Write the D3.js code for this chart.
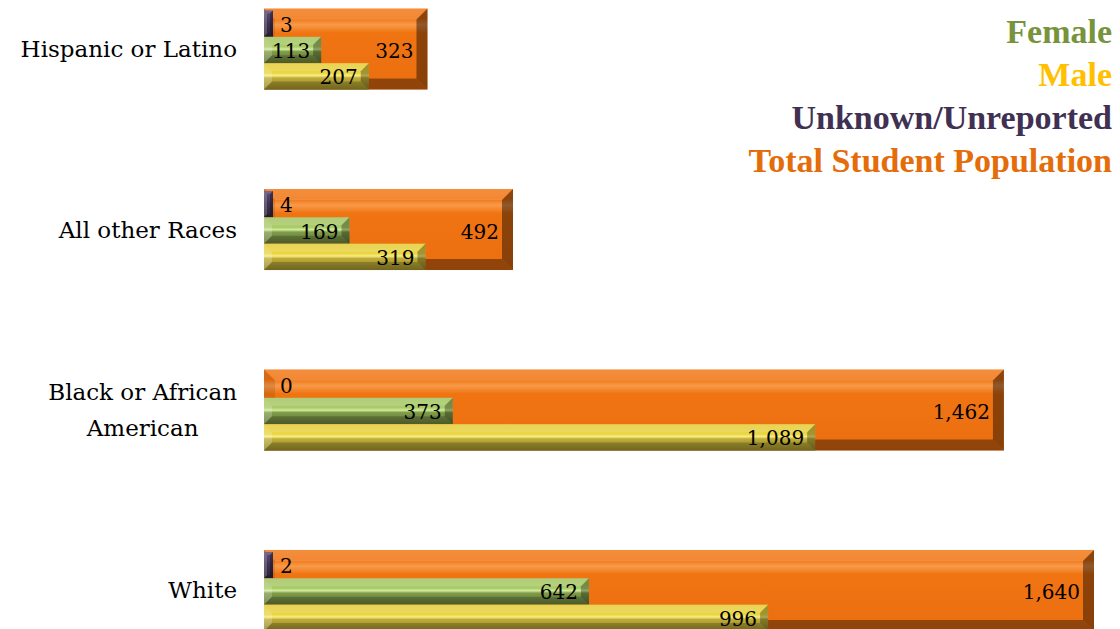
<!DOCTYPE html>
<html>
<head>
<meta charset="utf-8">
<script src="https://cdn.jsdelivr.net/npm/d3@7"></script>
<style>
  body { margin: 0; background: #fff; }
  svg { display: block; }
</style>
</head>
<body>
<div id="chart"></div>
<script>
//Chart data
let categories = ["Hispanic or Latino", "All other Races", "Black or African American", "White"];
let totalPop = [323, 492, 1462, 1640];
let female = [113, 169, 373, 642];
let male = [207, 319, 1089, 996];
let unknown = [3, 4, 0, 2];
let legendLabels = ["Female", "Male", "Unknown/Unreported", "Total Student Population"];

//dimensions
let width = 1120;
let height = 629;
let labelFont = "'DejaVu Serif', serif";
let legendFont = "'Liberation Serif', 'Times New Roman', serif";

//series styles: gradient stops and bevel size
let styles = {
    total: { bevel: 11, stops: [[0, "#F27A1A"], [0.12, "#F07412"], [0.2, "#F89A4A"], [0.3, "#F07412"], [1, "#EB6F10"]] },
    unknown: { bevel: 3, stops: [[0, "#5E4E78"], [0.5, "#403152"], [1, "#2C2239"]] },
    female: { bevel: 8, stops: [[0, "#A3C462"], [0.38, "#A9CB68"], [0.47, "#D2EC9C"], [0.56, "#809C4A"], [1, "#5E7135"]] },
    male: { bevel: 8, stops: [[0, "#E4CB37"], [0.38, "#EAD644"], [0.47, "#F9EE84"], [0.56, "#BFAD38"], [1, "#8E8027"]] }
};
let legendColors = ["#77933C", "#FFC000", "#403152", "#E46C0A"];

let rows = categories.map(function (c, i) {
    return { cat: c, total: totalPop[i], female: female[i], male: male[i], unknown: unknown[i] };
});

let svg = d3.select("#chart")
    .append("svg")
    .attr("width", width)
    .attr("height", height);

let x = d3.scaleLinear()
    .domain([0, d3.max(totalPop)])
    .range([264, 1094]);

let y = d3.scaleBand()
    .domain(categories)
    .range([8.5, 631])
    .paddingInner(0.551)
    .paddingOuter(0);

let sub = d3.scaleBand()
    .domain(["unknown", "female", "male"])
    .range([2, y.bandwidth()]);

//gradients
let defs = svg.append("defs");
Object.keys(styles).forEach(function (key) {
    let grad = defs.append("linearGradient")
        .attr("id", "grad-" + key)
        .attr("x1", 0).attr("y1", 0).attr("x2", 0).attr("y2", 1);
    styles[key].stops.forEach(function (s) {
        grad.append("stop").attr("offset", s[0]).attr("stop-color", s[1]);
    });
});

/**
 * Draws one bevelled bar
 */
function drawBar(g, x0, x1, y0, y1, key) {
    let b = Math.min(styles[key].bevel, (x1 - x0) / 2, (y1 - y0) / 2);
    let isTotal = key == "total";
    g.append("rect")
        .attr("x", x0).attr("y", y0)
        .attr("width", x1 - x0).attr("height", y1 - y0)
        .attr("fill", "url(#grad-" + key + ")");
    let faces = [
        { pts: [[x0, y0], [x1, y0], [x1 - b, y0 + b], [x0 + b, y0 + b]], fill: "#fff", op: 0.15 },
        { pts: [[x0, y0], [x0 + b, y0 + b], [x0 + b, y1 - b], [x0, y1]], fill: isTotal ? "#000" : "#fff", op: isTotal ? 0.1 : 0.2 },
        { pts: [[x0, y1], [x0 + b, y1 - b], [x1 - b, y1 - b], [x1, y1]], fill: "#000", op: isTotal ? 0.38 : 0.2 },
        { pts: [[x1, y0], [x1, y1], [x1 - b, y1 - b], [x1 - b, y0 + b]], fill: "#000", op: isTotal ? 0.42 : 0.3 }
    ];
    g.selectAll("polygon.face")
        .data(faces)
        .join("polygon")
        .attr("class", "face")
        .attr("points", function (d) { return d.pts.map(function (p) { return p.join(","); }).join(" "); })
        .attr("fill", function (d) { return d.fill; })
        .attr("fill-opacity", function (d) { return d.op; });
}

let fmt = d3.format(",");

//bars
let groups = svg.selectAll("g.cat")
    .data(rows)
    .join("g")
    .attr("class", "cat");

groups.each(function (d) {
    let top = y(d.cat);
    let g = d3.select(this);
    drawBar(g.append("g"), x(0), x(d.total), top, top + y.bandwidth(), "total");
    ["unknown", "female", "male"].forEach(function (key) {
        if (d[key] <= 0) return;
        let x1 = Math.max(x(d[key]), x(0) + (key == "unknown" ? 9 : 0));
        let s0 = top + sub(key);
        drawBar(g.append("g"), x(0), x1, s0, s0 + sub.bandwidth(), key);
    });
});

//value labels
groups.append("text")
    .attr("x", function (d) { return x(d.total) - 14; })
    .attr("y", function (d) { return y(d.cat) + y.bandwidth() / 2 + 2; })
    .attr("text-anchor", "end")
    .attr("dominant-baseline", "central")
    .style("font-family", labelFont)
    .style("font-size", "20px")
    .text(function (d) { return fmt(d.total); });

["unknown", "female", "male"].forEach(function (key) {
    groups.append("text")
        .attr("x", function (d) { return key == "unknown" ? x(0) + 16 : x(d[key]) - 11; })
        .attr("y", function (d) { return y(d.cat) + sub(key) + sub.bandwidth() / 2 + 1; })
        .attr("text-anchor", key == "unknown" ? "start" : "end")
        .attr("dominant-baseline", "central")
        .style("font-family", labelFont)
        .style("font-size", "20px")
        .text(function (d) { return fmt(d[key]); });
});

//category labels, wrapped when too long
let maxLabel = 236;
groups.append("text")
    .attr("class", "cat-label")
    .style("font-family", labelFont)
    .style("font-size", "23px")
    .each(function (d) {
        let t = d3.select(this);
        let words = d.cat.split(" ");
        let lines = [];
        let line = [];
        words.forEach(function (w) {
            line.push(w);
            t.text(line.join(" "));
            if (textLen(t) > maxLabel && line.length > 1) {
                line.pop();
                lines.push(line.join(" "));
                line = [w];
            }
        });
        lines.push(line.join(" "));
        let widths = lines.map(function (l) { t.text(l); return textLen(t); });
        t.text(null);
        let widest = d3.max(widths);
        let cx = 237 - widest / 2;
        let lh = 36;
        let cy = y(d.cat) + y.bandwidth() / 2 - (lines.length - 1) * lh / 2;
        lines.forEach(function (l, i) {
            t.append("tspan")
                .attr("x", cx)
                .attr("y", cy + i * lh)
                .attr("text-anchor", "middle")
                .attr("dominant-baseline", "central")
                .text(l);
        });
    });

function textLen(sel) {
    return sel.node().getComputedTextLength();
}

//legend
svg.append("g")
    .selectAll("text")
    .data(legendLabels)
    .join("text")
    .attr("x", 1112)
    .attr("y", function (d, i) { return 43 + i * 43; })
    .attr("text-anchor", "end")
    .style("font-family", legendFont)
    .style("font-weight", "bold")
    .style("font-size", "34px")
    .attr("fill", function (d, i) { return legendColors[i]; })
    .text(function (d) { return d; });
</script>
</body>
</html>
